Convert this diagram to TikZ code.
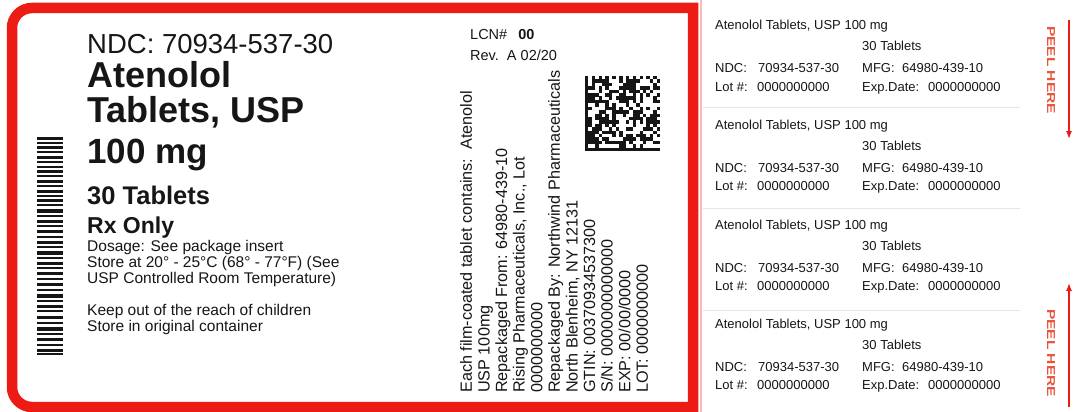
\documentclass[tikz,border=0pt]{standalone}
\usepackage{fontspec}
\setmainfont{Liberation Sans}
\usetikzlibrary{arrows.meta}
\definecolor{framered}{RGB}{236,28,20}
\definecolor{peelred}{RGB}{232,84,60}
\definecolor{ink}{RGB}{22,22,22}
\newcommand\fsz[2]{\fontsize{#1}{#2}\selectfont}
\tikzset{
  txt/.style={inner sep=0pt, anchor=base west, text=ink},
  big/.style={txt, font=\fsz{36}{40}\bfseries},
  small/.style={txt, font=\fsz{15.5}{17}},
  stub/.style={txt, font=\fsz{13}{15}},
  peel/.style={inner sep=0pt, text=peelred, font=\fsz{11.5}{13}\bfseries},
  peelarrow/.style={draw=framered, line width=1.2pt, -{Latex[length=8pt,width=6pt]}},
  bar/.style={fill=ink},
  sep/.style={draw=black!10, line width=0.8pt}
}
\begin{document}
\begin{tikzpicture}[x=1pt,y=-1pt]
\useasboundingbox (0,0) rectangle (1073,412);
\fill[white] (0,0) rectangle (1073,412);

% red frame
\draw[framered, line width=10.5pt, line join=miter]
  (350,407) -- (693,407) -- (693,8) -- (350,8) [rounded corners=20pt] -- (12,8) -- (12,407) -- cycle;
\draw[framered!30, line width=1.5pt] (701,0) -- (701,412);

% left barcode
\foreach \y/\t in {137/3,142/2,146/3,151/2,156/3,161/2,166/2,170/3,175/2,180/3,185/2,190/3,195/2,199/3,204/2,209/4,215/2,220/3,225/2,230/3,236/2,241/3,246/2,251/4,257/2,262/3,267/2,272/3,278/2,283/3,289/2,294/4,300/2,305/3,310/2,316/3,322/2,327/4,333/2,338/3,344/2,349/3,353/2}
  \fill[bar] (37,\y) rectangle (63,\y+\t);

% main texts
\node[txt, font=\fsz{27.5}{30}] (ndc) at (87,53) {NDC: 70934-537-30};
\node[big] (name1) at (87,87) {Atenolol};
\node[big] (name2) at (87,122) {Tablets, USP};
\node[big, font=\fsz{35}{40}\bfseries] (dose) at (87,163) {100 mg};
\node[big, font=\fsz{25.5}{30}\bfseries] (count) at (87,204) {30 Tablets};
\node[big, font=\fsz{23}{26}\bfseries] (rx) at (87,233) {Rx Only};
\node[small] (d1) at (87,251) {Dosage: See package insert};
\node[small] (d2) at (87,267) {Store at 20° - 25°C (68° - 77°F) (See};
\node[small] (d3) at (87,283) {USP Controlled Room Temperature)};
\node[small] (d4) at (87,315) {Keep out of the reach of children};
\node[small] (d5) at (87,331) {Store in original container};

\node[small, font=\fsz{14.5}{17}] (lcn) at (470,40) {LCN\#\hspace{11pt}\textbf{00}};
\node[small, font=\fsz{14.5}{17}] (rev) at (470,60) {Rev.\ \ A 02/20};

% rotated block
\node[inner sep=0pt, rotate=90, anchor=north west, align=left, text=ink,
      font=\fsz{16.2}{17.6}] (info) at (460,393)
{Each film-coated tablet contains:\ \ Atenolol\\
USP 100mg\\
Repackaged From: 64980-439-10\\
Rising Pharmaceuticals, Inc., Lot\\
0000000000\\
Repackaged By: Northwind Pharmaceuticals\\
North Blenheim, NY 12131\\
GTIN: 00370934537300\\
S/N: 0000000000000\\
EXP: 00/00/0000\\
LOT: 0000000000};

% data matrix
\pgfmathsetseed{11}
\foreach \i in {0,...,21}{
  \foreach \j in {0,...,21}{
    \pgfmathtruncatemacro\b{(\i==0) || (\j==21) || ((\j==0) && (mod(\i,2)==0)) || ((\i==21) && (mod(\j,2)==1)) || ((\i>0) && (\i<21) && (\j>0) && (\j<21) && (rnd<0.5))}
    \ifnum\b=1
      \fill[ink] (585+\i*3.41,76+\j*3.41) rectangle ++(3.45,3.45);
    \fi
  }
}

% right stubs
\foreach \s/\y in {1/30,2/129,3/229,4/328}{
  \node[stub] (sa\s) at (715,\y) {Atenolol Tablets, USP 100 mg};
  \node[stub] (sb\s) at (862,\y+21) {30 Tablets};
  \node[stub] (sc\s) at (715,\y+43) {NDC:};
  \node[stub] (sd\s) at (758,\y+43) {70934-537-30};
  \node[stub] (se\s) at (862,\y+43) {MFG:};
  \node[stub] (sf\s) at (902,\y+43) {64980-439-10};
  \node[stub] (sg\s) at (715,\y+61) {Lot \#:};
  \node[stub] (sh\s) at (757,\y+61) {0000000000};
  \node[stub] (si\s) at (862,\y+61) {Exp.Date:};
  \node[stub] (sj\s) at (928,\y+61) {0000000000};
}
\foreach \y in {107,208,310}
  \draw[sep] (703,\y) -- (1020,\y);

% peel here
\node[peel, rotate=-90] (peel1) at (1051,70) {\scalebox{1.35}[1]{PEEL HERE}};
\node[peel, rotate=-90] (peel2) at (1051,353) {\scalebox{1.35}[1]{PEEL HERE}};
\coordinate (a1s) at (1069,20);
\coordinate (a1e) at (1069,139);
\coordinate (a2s) at (1069,407);
\coordinate (a2e) at (1069,283);
\draw[peelarrow] (a1s) -- (a1e);
\draw[peelarrow] (a2s) -- (a2e);
\end{tikzpicture}
\end{document}
